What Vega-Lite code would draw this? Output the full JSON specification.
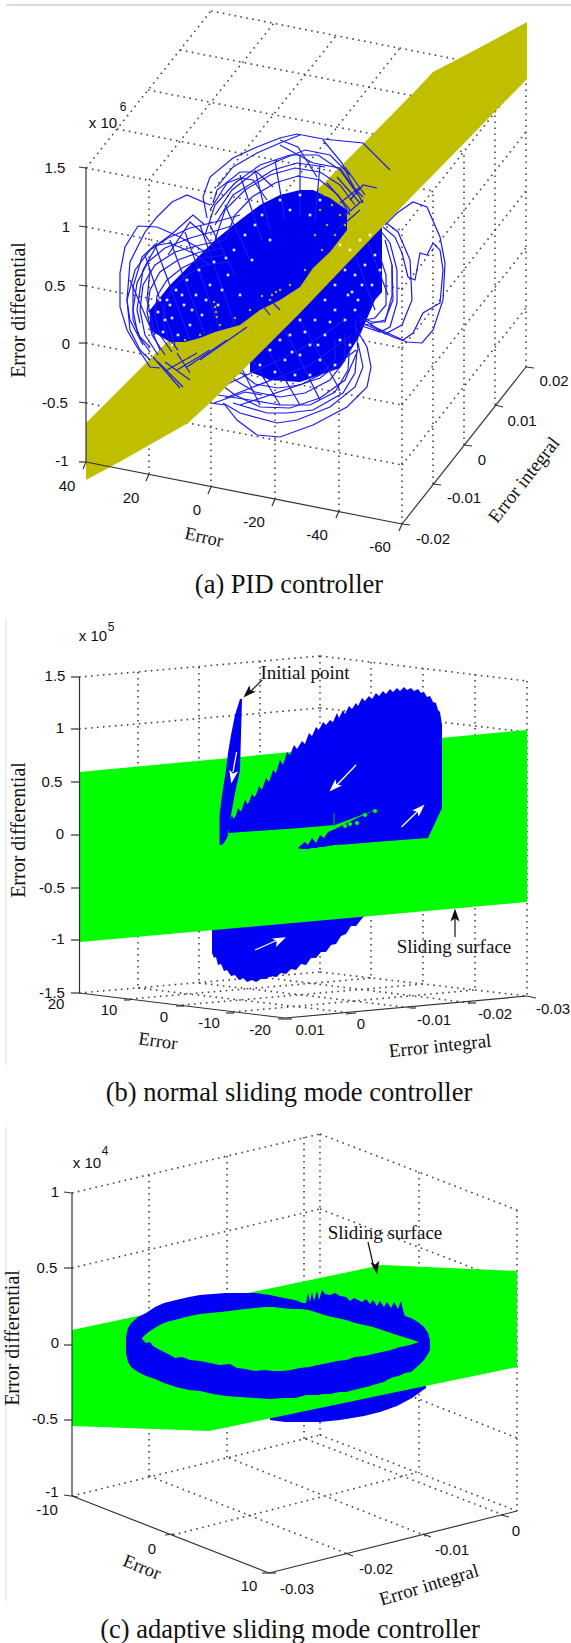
{
"$schema":"https://vega.github.io/schema/vega-lite/v6.json",
"padding":0,"spacing":0,"bounds":"flush",
"config":{"view":{"stroke":null},"concat":{"spacing":0}},
"datasets":{
"frame":[{"h":6,"v":5,"h2":571,"v2":5}],
"aGrid":[
{"h":86,"v":168,"h2":402,"v2":230},{"h":86,"v":227,"h2":402,"v2":289},{"h":86,"v":286,"h2":402,"v2":348},{"h":86,"v":343,"h2":402,"v2":405},{"h":86,"v":403,"h2":402,"v2":465},
{"h":402,"v":230,"h2":526,"v2":73},{"h":402,"v":289,"h2":526,"v2":132},{"h":402,"v":348,"h2":526,"v2":191},{"h":402,"v":405,"h2":526,"v2":248},{"h":402,"v":465,"h2":526,"v2":308},
{"h":149,"v":474,"h2":149,"v2":181},{"h":211,"v":487,"h2":211,"v2":193},{"h":275,"v":499,"h2":275,"v2":205},{"h":339,"v":511,"h2":339,"v2":218},{"h":402,"v":524,"h2":402,"v2":230},
{"h":433,"v":484,"h2":433,"v2":191},{"h":464,"v":445,"h2":464,"v2":152},{"h":495,"v":405,"h2":495,"v2":112},{"h":526,"v":367,"h2":526,"v2":73},
{"h":86,"v":168,"h2":211,"v2":11},{"h":149,"v":180,"h2":274,"v2":23},{"h":211,"v":193,"h2":336,"v2":36},{"h":275,"v":205,"h2":400,"v2":48},{"h":339,"v":218,"h2":464,"v2":61},
{"h":117,"v":129,"h2":433,"v2":191},{"h":148,"v":90,"h2":464,"v2":152},{"h":180,"v":50,"h2":495,"v2":112},{"h":211,"v":11,"h2":526,"v2":73}],
"aAxis":[
{"h":86,"v":168,"h2":86,"v2":462},{"h":86,"v":462,"h2":402,"v2":524},{"h":402,"v":524,"h2":526,"v2":367},
{"h":79,"v":167,"h2":86,"v2":168},{"h":79,"v":226,"h2":86,"v2":227},{"h":79,"v":285,"h2":86,"v2":286},{"h":79,"v":343,"h2":86,"v2":343},{"h":79,"v":402,"h2":86,"v2":403},{"h":79,"v":462,"h2":86,"v2":462},
{"h":83,"v":469,"h2":86,"v2":462},{"h":146,"v":481,"h2":149,"v2":474},{"h":208,"v":494,"h2":211,"v2":487},{"h":272,"v":506,"h2":275,"v2":499},{"h":336,"v":518,"h2":339,"v2":511},{"h":399,"v":531,"h2":402,"v2":524},
{"h":402,"v":524,"h2":410,"v2":525},{"h":433,"v":484,"h2":441,"v2":485},{"h":464,"v":445,"h2":472,"v2":446},{"h":495,"v":405,"h2":503,"v2":407},{"h":526,"v":367,"h2":534,"v2":368}],
"aDenseUnder":[
{"h":250,"v":345,"v2":372},{"h":270,"v":310,"v2":380},{"h":300,"v":285,"v2":382},{"h":340,"v":245,"v2":368},{"h":360,"v":220,"v2":335},{"h":375,"v":210,"v2":300},{"h":382,"v":205,"v2":292}],
"aLinesUnder":[
{"i":1,"h":360,"v":322},{"i":1,"h":393,"v":337},{"i":1,"h":407,"v":342},{"i":1,"h":422,"v":343},{"i":1,"h":433,"v":330},{"i":1,"h":443,"v":300},{"i":1,"h":445,"v":263},{"i":1,"h":440,"v":237},{"i":1,"h":427,"v":207},{"i":1,"h":413,"v":202},{"i":1,"h":397,"v":213},{"i":1,"h":385,"v":225},
{"i":2,"h":383,"v":227},{"i":2,"h":395,"v":237},{"i":2,"h":402,"v":253},{"i":2,"h":408,"v":277},{"i":2,"h":415,"v":280},{"i":2,"h":420,"v":253},{"i":2,"h":427,"v":255},{"i":2,"h":433,"v":243},{"i":2,"h":440,"v":250},{"i":2,"h":443,"v":270},{"i":2,"h":440,"v":303},{"i":2,"h":423,"v":313},{"i":2,"h":413,"v":333},{"i":2,"h":403,"v":340},{"i":2,"h":370,"v":325},
{"i":3,"h":380,"v":230},{"i":3,"h":390,"v":243},{"i":3,"h":397,"v":270},{"i":3,"h":397,"v":303},{"i":3,"h":390,"v":327},{"i":3,"h":380,"v":332},{"i":3,"h":362,"v":326},
{"i":4,"h":385,"v":222},{"i":4,"h":398,"v":232},{"i":4,"h":410,"v":260},{"i":4,"h":412,"v":300},{"i":4,"h":402,"v":325},{"i":4,"h":385,"v":334},{"i":4,"h":362,"v":318},
{"i":5,"h":392,"v":265},{"i":5,"h":392,"v":296},{"i":5,"h":385,"v":322},{"i":5,"h":372,"v":322},{"i":5,"h":358,"v":316},
{"i":6,"h":355,"v":327},{"i":6,"h":367,"v":347},{"i":6,"h":371,"v":367},{"i":6,"h":367,"v":387},{"i":6,"h":347,"v":407},{"i":6,"h":313,"v":425},{"i":6,"h":280,"v":437},{"i":6,"h":257,"v":435},{"i":6,"h":237,"v":420},{"i":6,"h":225,"v":405},{"i":6,"h":210,"v":403},
{"i":7,"h":358,"v":343},{"i":7,"h":363,"v":367},{"i":7,"h":355,"v":387},{"i":7,"h":330,"v":407},{"i":7,"h":297,"v":420},{"i":7,"h":277,"v":423},{"i":7,"h":240,"v":413},{"i":7,"h":223,"v":403},
{"i":8,"h":357,"v":350},{"i":8,"h":355,"v":373},{"i":8,"h":343,"v":393},{"i":8,"h":313,"v":410},{"i":8,"h":287,"v":413},{"i":8,"h":267,"v":413},{"i":8,"h":233,"v":403},
{"i":9,"h":350,"v":340},{"i":9,"h":348,"v":370},{"i":9,"h":335,"v":392},{"i":9,"h":310,"v":405},{"i":9,"h":280,"v":405},{"i":9,"h":250,"v":400},{"i":9,"h":218,"v":395},
{"i":10,"h":214,"v":403},{"i":10,"h":245,"v":392},{"i":10,"h":262,"v":395},
{"i":11,"h":345,"v":335},{"i":11,"h":345,"v":360},{"i":11,"h":330,"v":380},{"i":11,"h":305,"v":393},{"i":11,"h":280,"v":397},{"i":11,"h":255,"v":392},{"i":11,"h":235,"v":380},{"i":11,"h":222,"v":365},
{"i":12,"h":335,"v":340},{"i":12,"h":335,"v":360},{"i":12,"h":320,"v":375},{"i":12,"h":300,"v":385},{"i":12,"h":278,"v":388},{"i":12,"h":255,"v":384},{"i":12,"h":240,"v":372},
{"i":13,"h":355,"v":320},{"i":13,"h":358,"v":350},{"i":13,"h":345,"v":380},{"i":13,"h":320,"v":398},{"i":13,"h":290,"v":408},{"i":13,"h":260,"v":407},{"i":13,"h":235,"v":395},{"i":13,"h":215,"v":380},{"i":13,"h":205,"v":385},
{"i":14,"h":340,"v":390},{"i":14,"h":300,"v":320},
{"i":15,"h":320,"v":400},{"i":15,"h":285,"v":330},
{"i":16,"h":300,"v":405},{"i":16,"h":265,"v":345},
{"i":17,"h":280,"v":405},{"i":17,"h":250,"v":355},
{"i":18,"h":260,"v":405},{"i":18,"h":240,"v":365},
{"i":19,"h":215,"v":390},{"i":19,"h":300,"v":350},{"i":19,"h":345,"v":320},
{"i":20,"h":225,"v":398},{"i":20,"h":310,"v":365},{"i":20,"h":352,"v":335},
{"i":21,"h":240,"v":405},{"i":21,"h":320,"v":378},{"i":21,"h":356,"v":350},
{"i":22,"h":385,"v":240},{"i":22,"h":392,"v":265},{"i":22,"h":393,"v":300},{"i":22,"h":385,"v":320},{"i":22,"h":365,"v":325},
{"i":23,"h":378,"v":250},{"i":23,"h":386,"v":275},{"i":23,"h":386,"v":305},{"i":23,"h":375,"v":318},{"i":23,"h":355,"v":322},
{"i":24,"h":350,"v":240},{"i":24,"h":375,"v":310},
{"i":25,"h":365,"v":235},{"i":25,"h":388,"v":295}],
"aYellow":[
{"h":86,"v":423,"v2":480},{"h":123,"v":386,"v2":460},{"h":188,"v":321,"v2":423},{"h":210,"v":299,"v2":403},{"h":300,"v":207,"v2":313},{"h":364,"v":143,"v2":246},{"h":419,"v":87,"v2":189},{"h":433,"v":72,"v2":175},{"h":477,"v":49,"v2":130},{"h":527,"v":22,"v2":79}],
"aDenseOver":[
{"h":150,"v":310,"v2":330},{"h":170,"v":285,"v2":342},{"h":185,"v":270,"v2":342},{"h":200,"v":255,"v2":338},{"h":215,"v":240,"v2":332},{"h":240,"v":220,"v2":325},{"h":260,"v":205,"v2":310},{"h":280,"v":195,"v2":300},{"h":300,"v":190,"v2":287},{"h":313,"v":190,"v2":268},{"h":330,"v":198,"v2":252},{"h":347,"v":210,"v2":230}],
"aLinesOver":[
{"i":1,"h":207,"v":218},{"i":1,"h":203,"v":197},{"i":1,"h":210,"v":177},{"i":1,"h":233,"v":158},{"i":1,"h":257,"v":147},{"i":1,"h":280,"v":138},{"i":1,"h":297,"v":134},{"i":1,"h":323,"v":139},{"i":1,"h":363,"v":143},{"i":1,"h":390,"v":170},
{"i":2,"h":213,"v":203},{"i":2,"h":217,"v":190},{"i":2,"h":240,"v":172},{"i":2,"h":257,"v":172},{"i":2,"h":273,"v":187},
{"i":3,"h":210,"v":210},{"i":3,"h":227,"v":183},{"i":3,"h":240,"v":178},{"i":3,"h":253,"v":180},{"i":3,"h":267,"v":200},
{"i":4,"h":215,"v":225},{"i":4,"h":233,"v":195},{"i":4,"h":257,"v":180},{"i":4,"h":273,"v":170},{"i":4,"h":297,"v":163},{"i":4,"h":325,"v":167},
{"i":5,"h":300,"v":135},{"i":5,"h":280,"v":143},{"i":5,"h":257,"v":153},{"i":5,"h":233,"v":167},{"i":5,"h":217,"v":187},
{"i":6,"h":280,"v":145},{"i":6,"h":313,"v":163},{"i":6,"h":340,"v":168},{"i":6,"h":353,"v":187},{"i":6,"h":363,"v":197},
{"i":7,"h":280,"v":140},{"i":7,"h":298,"v":147},{"i":7,"h":317,"v":177},
{"i":8,"h":323,"v":140},{"i":8,"h":342,"v":163},{"i":8,"h":350,"v":180},{"i":8,"h":363,"v":203},
{"i":9,"h":350,"v":200},{"i":9,"h":363,"v":185},{"i":9,"h":377,"v":188},
{"i":10,"h":327,"v":183},{"i":10,"h":350,"v":210},
{"i":11,"h":337,"v":177},{"i":11,"h":360,"v":203},
{"i":12,"h":345,"v":167},{"i":12,"h":365,"v":195},
{"i":13,"h":360,"v":187},{"i":13,"h":340,"v":203},
{"i":14,"h":363,"v":200},{"i":14,"h":343,"v":217},
{"i":15,"h":360,"v":210},{"i":15,"h":337,"v":230},
{"i":16,"h":153,"v":357},{"i":16,"h":180,"v":388},
{"i":17,"h":158,"v":362},{"i":17,"h":183,"v":387},
{"i":18,"h":165,"v":362},{"i":18,"h":190,"v":380},
{"i":19,"h":177,"v":353},{"i":19,"h":190,"v":373},
{"i":20,"h":167,"v":370},{"i":20,"h":197,"v":353},
{"i":21,"h":177,"v":370},{"i":21,"h":210,"v":350},
{"i":22,"h":187,"v":367},{"i":22,"h":227,"v":340},
{"i":23,"h":200,"v":360},{"i":23,"h":247,"v":327},
{"i":24,"h":262,"v":305},{"i":24,"h":270,"v":315},
{"i":25,"h":270,"v":300},{"i":25,"h":280,"v":310},
{"i":26,"h":210,"v":205},{"i":26,"h":187,"v":195},{"i":26,"h":172,"v":202},{"i":26,"h":157,"v":217},{"i":26,"h":145,"v":232},{"i":26,"h":130,"v":262},{"i":26,"h":127,"v":300},{"i":26,"h":130,"v":330},{"i":26,"h":140,"v":350},{"i":26,"h":150,"v":360},
{"i":27,"h":207,"v":253},{"i":27,"h":180,"v":237},{"i":27,"h":157,"v":227},{"i":27,"h":138,"v":226},{"i":27,"h":125,"v":247},{"i":27,"h":120,"v":273},{"i":27,"h":120,"v":307},{"i":27,"h":127,"v":330},{"i":27,"h":137,"v":347},{"i":27,"h":150,"v":367},{"i":27,"h":160,"v":368},
{"i":28,"h":157,"v":243},{"i":28,"h":142,"v":257},{"i":28,"h":133,"v":287},{"i":28,"h":133,"v":320},{"i":28,"h":140,"v":337},{"i":28,"h":150,"v":347},
{"i":29,"h":205,"v":225},{"i":29,"h":193,"v":215},{"i":29,"h":173,"v":233},{"i":29,"h":157,"v":245},{"i":29,"h":143,"v":270},{"i":29,"h":137,"v":310},{"i":29,"h":140,"v":323},
{"i":30,"h":153,"v":246},{"i":30,"h":170,"v":243},{"i":30,"h":193,"v":253},{"i":30,"h":210,"v":265},
{"i":31,"h":168,"v":255},{"i":31,"h":190,"v":222},{"i":31,"h":205,"v":235},{"i":31,"h":215,"v":250},
{"i":32,"h":150,"v":270},{"i":32,"h":147,"v":300},{"i":32,"h":155,"v":335},
{"i":33,"h":225,"v":240},{"i":33,"h":200,"v":245},{"i":33,"h":175,"v":252},{"i":33,"h":155,"v":265},{"i":33,"h":143,"v":285},{"i":33,"h":140,"v":310},{"i":33,"h":145,"v":335},{"i":33,"h":158,"v":355},
{"i":34,"h":225,"v":248},{"i":34,"h":200,"v":252},{"i":34,"h":178,"v":260},{"i":34,"h":160,"v":272},{"i":34,"h":150,"v":290},{"i":34,"h":147,"v":312},{"i":34,"h":152,"v":335},{"i":34,"h":165,"v":355},
{"i":35,"h":225,"v":255},{"i":35,"h":202,"v":258},{"i":35,"h":182,"v":268},{"i":35,"h":167,"v":280},{"i":35,"h":157,"v":296},{"i":35,"h":155,"v":315},{"i":35,"h":160,"v":335},{"i":35,"h":172,"v":352},
{"i":36,"h":230,"v":262},{"i":36,"h":205,"v":265},{"i":36,"h":187,"v":275},{"i":36,"h":173,"v":288},{"i":36,"h":165,"v":302},{"i":36,"h":163,"v":320},{"i":36,"h":168,"v":338},{"i":36,"h":178,"v":350},
{"i":37,"h":235,"v":225},{"i":37,"h":212,"v":232},{"i":37,"h":190,"v":238},{"i":37,"h":165,"v":248},{"i":37,"h":148,"v":262},{"i":37,"h":137,"v":283},{"i":37,"h":133,"v":310},{"i":37,"h":138,"v":335},{"i":37,"h":150,"v":352},
{"i":38,"h":240,"v":215},{"i":38,"h":215,"v":222},{"i":38,"h":190,"v":228},{"i":38,"h":168,"v":238},{"i":38,"h":150,"v":250},{"i":38,"h":135,"v":270},{"i":38,"h":127,"v":300},{"i":38,"h":130,"v":320},{"i":38,"h":143,"v":345},
{"i":39,"h":145,"v":255},{"i":39,"h":175,"v":345},
{"i":40,"h":155,"v":245},{"i":40,"h":190,"v":340},
{"i":41,"h":170,"v":240},{"i":41,"h":205,"v":335},
{"i":42,"h":185,"v":232},{"i":42,"h":220,"v":330},
{"i":43,"h":200,"v":225},{"i":43,"h":235,"v":325},
{"i":44,"h":130,"v":280},{"i":44,"h":160,"v":350},
{"i":45,"h":215,"v":240},{"i":45,"h":225,"v":210},{"i":45,"h":245,"v":190},{"i":45,"h":270,"v":175},{"i":45,"h":295,"v":168},{"i":45,"h":320,"v":172},{"i":45,"h":340,"v":185},{"i":45,"h":355,"v":205},
{"i":46,"h":225,"v":240},{"i":46,"h":235,"v":215},{"i":46,"h":252,"v":197},{"i":46,"h":275,"v":183},{"i":46,"h":298,"v":176},{"i":46,"h":320,"v":180},{"i":46,"h":338,"v":195},{"i":46,"h":350,"v":215},
{"i":47,"h":205,"v":235},{"i":47,"h":215,"v":205},{"i":47,"h":235,"v":183},{"i":47,"h":260,"v":165},{"i":47,"h":290,"v":155},{"i":47,"h":318,"v":155},{"i":47,"h":340,"v":170},{"i":47,"h":358,"v":195},
{"i":48,"h":215,"v":215},{"i":48,"h":232,"v":190},{"i":48,"h":255,"v":172},{"i":48,"h":280,"v":160},{"i":48,"h":305,"v":150},{"i":48,"h":330,"v":155},{"i":48,"h":350,"v":175},
{"i":49,"h":240,"v":175},{"i":49,"h":262,"v":240},
{"i":50,"h":255,"v":170},{"i":50,"h":270,"v":230},
{"i":51,"h":275,"v":160},{"i":51,"h":285,"v":220},
{"i":52,"h":300,"v":155},{"i":52,"h":300,"v":215},
{"i":53,"h":320,"v":165},{"i":53,"h":315,"v":220},
{"i":54,"h":225,"v":205},{"i":54,"h":250,"v":260},
{"i":55,"h":210,"v":225},{"i":55,"h":235,"v":275}],
"aWhite":[
{"h":158,"v":312},{"h":163,"v":332},{"h":167,"v":300},{"h":172,"v":318},{"h":176,"v":290},{"h":178,"v":335},{"h":184,"v":305},{"h":187,"v":280},{"h":190,"v":325},{"h":196,"v":295},{"h":199,"v":270},{"h":202,"v":315},{"h":210,"v":285},{"h":214,"v":262},{"h":218,"v":305},{"h":228,"v":275},{"h":234,"v":250},{"h":240,"v":295},{"h":252,"v":260},{"h":262,"v":215},{"h":270,"v":240},{"h":280,"v":200},{"h":290,"v":210},{"h":300,"v":195},{"h":310,"v":215},{"h":320,"v":200},{"h":172,"v":345},{"h":165,"v":320},
{"h":160,"v":300},{"h":170,"v":305},{"h":182,"v":295},{"h":192,"v":310},{"h":206,"v":300},{"h":222,"v":290},{"h":245,"v":235},{"h":255,"v":225},{"h":226,"v":258},
{"h":340,"v":245},{"h":350,"v":250},{"h":360,"v":240},{"h":370,"v":235},{"h":345,"v":270},{"h":355,"v":275},{"h":365,"v":265},{"h":375,"v":255},{"h":335,"v":285},{"h":348,"v":295},{"h":358,"v":300},{"h":372,"v":285},{"h":380,"v":270},{"h":325,"v":300},{"h":335,"v":310},{"h":345,"v":320},{"h":355,"v":310},{"h":315,"v":320},{"h":325,"v":335},{"h":340,"v":340},{"h":350,"v":345},{"h":300,"v":320},{"h":310,"v":345},{"h":320,"v":360},{"h":335,"v":365},{"h":345,"v":370},{"h":290,"v":335},{"h":300,"v":355},{"h":310,"v":375},{"h":280,"v":340},{"h":285,"v":360},{"h":295,"v":375},{"h":270,"v":350},{"h":275,"v":372},{"h":260,"v":365},
{"h":330,"v":322},{"h":318,"v":345},{"h":305,"v":332},{"h":292,"v":352},{"h":352,"v":292},{"h":362,"v":285}],
"aOlive":[
{"h":325,"v":195},{"h":332,"v":205},{"h":340,"v":215},{"h":320,"v":210},{"h":327,"v":225},{"h":335,"v":235},{"h":345,"v":225},{"h":315,"v":235},{"h":322,"v":250},{"h":305,"v":270},{"h":290,"v":285},{"h":280,"v":290},{"h":270,"v":300},{"h":250,"v":310},{"h":235,"v":318},{"h":220,"v":325},{"h":200,"v":335},{"h":185,"v":340},{"h":170,"v":345},{"h":262,"v":296},{"h":214,"v":302},{"h":215,"v":307},{"h":216,"v":312},{"h":217,"v":317},{"h":272,"v":295},{"h":276,"v":292}],
"aTicks":[
{"t":"1.5","h":55,"v":168},{"t":"1","h":66,"v":227},{"t":"0.5","h":55,"v":286},{"t":"0","h":66,"v":344},{"t":"-0.5","h":55,"v":403},{"t":"-1","h":62,"v":461},
{"t":"40","h":67,"v":486},{"t":"20","h":131,"v":498},{"t":"0","h":197,"v":510},{"t":"-20","h":254,"v":522},{"t":"-40","h":317,"v":535},{"t":"-60","h":380,"v":547},
{"t":"-0.02","h":433,"v":539},{"t":"-0.01","h":464,"v":498},{"t":"0","h":482,"v":460},{"t":"0.01","h":522,"v":421},{"t":"0.02","h":554,"v":381},
{"t":"x 10","h":103,"v":123}],
"aExp":[{"t":"6","h":123,"v":107}],
"bGrid":[
{"h":79,"v":677,"h2":320,"v2":656},{"h":320,"v":656,"h2":527,"v2":681},{"h":79,"v":729,"h2":320,"v2":708},{"h":320,"v":708,"h2":527,"v2":732},
{"h":138,"v":672,"h2":138,"v2":988},{"h":199,"v":667,"h2":199,"v2":983},{"h":260,"v":661,"h2":260,"v2":977},{"h":320,"v":656,"h2":320,"v2":972},{"h":371,"v":662,"h2":371,"v2":978},{"h":423,"v":668,"h2":423,"v2":984},{"h":475,"v":674,"h2":475,"v2":990},{"h":527,"v":681,"h2":527,"v2":996},
{"h":79,"v":993,"h2":320,"v2":972},{"h":130,"v":999,"h2":372,"v2":978},{"h":182,"v":1005,"h2":423,"v2":984},{"h":233,"v":1012,"h2":475,"v2":990},
{"h":320,"v":972,"h2":527,"v2":996},{"h":260,"v":977,"h2":471,"v2":1003},{"h":199,"v":983,"h2":413,"v2":1008},{"h":138,"v":988,"h2":351,"v2":1013}],
"bAxis":[
{"h":79.5,"v":677,"h2":79.5,"v2":993},{"h":79,"v":993,"h2":285,"v2":1018},{"h":285,"v":1018,"h2":527,"v2":996},{"h":527,"v":996,"h2":536,"v2":998},
{"h":71,"v":677,"h2":79,"v2":677},{"h":71,"v":729,"h2":79,"v2":729},{"h":71,"v":782,"h2":79,"v2":782},{"h":71,"v":835,"h2":79,"v2":835},{"h":71,"v":888,"h2":79,"v2":888},{"h":71,"v":940,"h2":79,"v2":940},{"h":71,"v":993,"h2":79,"v2":993},
{"h":124,"v":1000,"h2":130,"v2":1000},{"h":176,"v":1006,"h2":184,"v2":1006},{"h":226,"v":1013,"h2":234,"v2":1013},{"h":278,"v":1019,"h2":292,"v2":1019},{"h":346,"v":1014,"h2":356,"v2":1013},{"h":410,"v":1008,"h2":416,"v2":1008},{"h":468,"v":1003,"h2":476,"v2":1003}],
"bBlobLow":[
{"h":212,"v":900,"v2":953},{"h":214,"v":900,"v2":958},{"h":216,"v":900,"v2":957},{"h":218,"v":900,"v2":965},{"h":221,"v":900,"v2":964},{"h":224,"v":900,"v2":971},{"h":227,"v":900,"v2":970},{"h":231,"v":900,"v2":976},{"h":235,"v":900,"v2":975},{"h":239,"v":900,"v2":980},{"h":243,"v":900,"v2":978},{"h":247,"v":900,"v2":982},{"h":252,"v":900,"v2":980},{"h":256,"v":900,"v2":982},{"h":261,"v":900,"v2":979},{"h":266,"v":900,"v2":979},{"h":271,"v":900,"v2":976},{"h":276,"v":900,"v2":977},{"h":281,"v":900,"v2":973},{"h":286,"v":900,"v2":974},{"h":291,"v":900,"v2":969},{"h":296,"v":900,"v2":970},{"h":301,"v":900,"v2":964},{"h":306,"v":900,"v2":965},{"h":311,"v":900,"v2":958},{"h":316,"v":900,"v2":958},{"h":321,"v":900,"v2":952},{"h":326,"v":900,"v2":952},{"h":331,"v":900,"v2":945},{"h":336,"v":900,"v2":944},{"h":341,"v":900,"v2":936},{"h":346,"v":900,"v2":934},{"h":351,"v":900,"v2":926},{"h":356,"v":900,"v2":926},{"h":364,"v":900,"v2":916}],
"bGreen":[{"h":79.5,"v":772,"v2":942},{"h":527,"v":730,"v2":902}],
"bBlob":[
{"i":1,"h":219.5,"v":815,"v2":845},{"i":1,"h":222,"v":795,"v2":845},{"i":1,"h":226,"v":770,"v2":840},{"i":1,"h":228,"v":753,"v2":835},{"i":1,"h":231,"v":735,"v2":815},{"i":1,"h":235,"v":715,"v2":793},{"i":1,"h":240,"v":699,"v2":770},{"i":1,"h":242,"v":699,"v2":700},
{"i":2,"h":229,"v":823,"v2":833},{"i":2,"h":300,"v":750,"v2":828},{"i":2,"h":335,"v":730,"v2":825},{"i":2,"h":375,"v":710,"v2":810},{"i":2,"h":442,"v":725,"v2":808},
{"i":3,"h":298,"v":848,"v2":848},{"i":3,"h":301,"v":845,"v2":849},{"i":3,"h":305,"v":842,"v2":849},{"i":3,"h":308,"v":845,"v2":849},{"i":3,"h":312,"v":838,"v2":848},{"i":3,"h":316,"v":843,"v2":848},{"i":3,"h":320,"v":835,"v2":847},{"i":3,"h":324,"v":838,"v2":847},{"i":3,"h":328,"v":832,"v2":846},{"i":3,"h":335,"v":829,"v2":845},{"i":3,"h":345,"v":824,"v2":844.5},{"i":3,"h":357,"v":818,"v2":843.6},{"i":3,"h":375,"v":810,"v2":842},{"i":3,"h":428,"v":805,"v2":838},{"i":3,"h":442,"v":800,"v2":808},
{"i":4,"h":229,"v":823,"v2":826},{"i":4,"h":232,"v":815,"v2":826},{"i":4,"h":234,"v":822,"v2":826},{"i":4,"h":238,"v":808,"v2":826},{"i":4,"h":241,"v":812,"v2":815},{"i":4,"h":245,"v":800,"v2":815},{"i":4,"h":248,"v":805,"v2":815},{"i":4,"h":252,"v":794,"v2":815},{"i":4,"h":255,"v":798,"v2":815},{"i":4,"h":259,"v":786,"v2":815},{"i":4,"h":262,"v":790,"v2":815},{"i":4,"h":266,"v":778,"v2":815},{"i":4,"h":269,"v":782,"v2":815},{"i":4,"h":273,"v":770,"v2":815},{"i":4,"h":276,"v":773,"v2":815},{"i":4,"h":280,"v":760,"v2":815},{"i":4,"h":283,"v":765,"v2":815},{"i":4,"h":287,"v":752,"v2":815},{"i":4,"h":290,"v":755,"v2":815},{"i":4,"h":294,"v":745,"v2":815},{"i":4,"h":297,"v":749,"v2":815},{"i":4,"h":302,"v":741,"v2":815},{"i":4,"h":305,"v":744,"v2":815},{"i":4,"h":309,"v":733,"v2":815},{"i":4,"h":312,"v":736,"v2":815},{"i":4,"h":316,"v":727,"v2":815},{"i":4,"h":319,"v":730,"v2":815},{"i":4,"h":323,"v":722,"v2":815},{"i":4,"h":326,"v":725,"v2":815},{"i":4,"h":330,"v":720,"v2":815},{"i":4,"h":333,"v":722,"v2":815},{"i":4,"h":337,"v":713,"v2":808},{"i":4,"h":339,"v":718,"v2":808},{"i":4,"h":343,"v":710,"v2":808},{"i":4,"h":345,"v":714,"v2":808},{"i":4,"h":349,"v":706,"v2":808},{"i":4,"h":352,"v":709,"v2":808},{"i":4,"h":356,"v":703,"v2":808},{"i":4,"h":358,"v":706,"v2":808},{"i":4,"h":362,"v":698,"v2":808},{"i":4,"h":365,"v":701,"v2":808},{"i":4,"h":369,"v":696,"v2":808},{"i":4,"h":372,"v":699,"v2":808},{"i":4,"h":376,"v":693,"v2":808},{"i":4,"h":379,"v":696,"v2":808},{"i":4,"h":383,"v":691,"v2":808},{"i":4,"h":386,"v":694,"v2":808},{"i":4,"h":390,"v":689,"v2":808},{"i":4,"h":393,"v":692,"v2":808},{"i":4,"h":397,"v":688,"v2":808},{"i":4,"h":400,"v":691,"v2":808},{"i":4,"h":404,"v":687,"v2":808},{"i":4,"h":407,"v":690,"v2":808},{"i":4,"h":411,"v":688,"v2":808},{"i":4,"h":414,"v":691,"v2":808},{"i":4,"h":418,"v":689,"v2":808},{"i":4,"h":421,"v":693,"v2":808},{"i":4,"h":424,"v":692,"v2":808},{"i":4,"h":427,"v":697,"v2":808},{"i":4,"h":430,"v":696,"v2":808},{"i":4,"h":433,"v":702,"v2":808},{"i":4,"h":436,"v":703,"v2":808},{"i":4,"h":438,"v":710,"v2":808},{"i":4,"h":440,"v":712,"v2":808},{"i":4,"h":442,"v":725,"v2":808}],
"bSpike":[{"h":334,"v":813,"h2":334,"v2":827}],
"bGreenDots":[{"h":345,"v":826},{"h":350,"v":824},{"h":357,"v":823},{"h":365,"v":815},{"h":375,"v":811}],
"bWhiteShaft":[{"h":236.6,"v":752,"h2":233,"v2":772},{"h":356,"v":765,"h2":333,"v2":789},{"h":401.5,"v":827,"h2":421,"v2":808},{"h":255,"v":950,"h2":280,"v2":939}],
"bWhiteHead":[{"h":232.5,"v":777,"a":190},{"h":334,"v":787,"a":225},{"h":420,"v":809,"a":45},{"h":280,"v":940,"a":65}],
"bBlackShaft":[{"h":262,"v":680,"h2":250,"v2":692},{"h":455,"v":937,"h2":455,"v2":912}],
"bBlackHead":[{"h":248,"v":693,"a":225},{"h":455,"v":915,"a":0}],
"bTicks":[
{"t":"1.5","h":55,"v":676},{"t":"1","h":60,"v":728},{"t":"0.5","h":52,"v":782},{"t":"0","h":60,"v":834},{"t":"-0.5","h":52,"v":888},{"t":"-1","h":58,"v":939},{"t":"-1.5","h":52,"v":993},
{"t":"20","h":56,"v":1004},{"t":"10","h":109,"v":1010},{"t":"0","h":164,"v":1017},{"t":"-10","h":209,"v":1023},{"t":"-20","h":260,"v":1030},
{"t":"0.01","h":310,"v":1030},{"t":"0","h":361,"v":1024},{"t":"-0.01","h":434,"v":1020},{"t":"-0.02","h":495,"v":1014},{"t":"-0.03","h":553,"v":1009},
{"t":"x 10","h":93,"v":636}],
"bExp":[{"t":"5","h":111,"v":627}],
"bNotes":[{"t":"Initial point","h":305,"v":673},{"t":"Sliding surface","h":454,"v":947}],
"bFrame":[{"h":6,"v":618,"h2":6,"v2":1065}],
"cGrid":[
{"h":72,"v":1193,"h2":320,"v2":1134},{"h":320,"v":1134,"h2":517,"v2":1210},{"h":72,"v":1268,"h2":320,"v2":1209},{"h":320,"v":1209,"h2":517,"v2":1285},{"h":320,"v":1360,"h2":517,"v2":1438},
{"h":149,"v":1175,"h2":149,"v2":1476},{"h":227,"v":1156,"h2":227,"v2":1458},{"h":304,"v":1137,"h2":304,"v2":1439},{"h":320,"v":1134,"h2":320,"v2":1435},{"h":419,"v":1172,"h2":419,"v2":1473},{"h":517,"v":1210,"h2":517,"v2":1511},
{"h":72,"v":1496,"h2":320,"v2":1435},{"h":173,"v":1535,"h2":415,"v2":1473},{"h":320,"v":1435,"h2":517,"v2":1511},{"h":306,"v":1439,"h2":506,"v2":1516},{"h":229,"v":1458,"h2":426,"v2":1536},{"h":149,"v":1476,"h2":348,"v2":1554}],
"cAxis":[
{"h":72,"v":1193,"h2":72,"v2":1496},{"h":72,"v":1496,"h2":269,"v2":1573},{"h":269,"v":1573,"h2":517,"v2":1511},
{"h":64,"v":1192,"h2":72,"v2":1193},{"h":64,"v":1268,"h2":72,"v2":1268},{"h":64,"v":1345,"h2":72,"v2":1345},{"h":64,"v":1420,"h2":72,"v2":1420},{"h":64,"v":1495,"h2":78,"v2":1497},
{"h":165,"v":1535,"h2":174,"v2":1534},{"h":262,"v":1573,"h2":276,"v2":1573},{"h":345,"v":1553,"h2":353,"v2":1556},{"h":423,"v":1534,"h2":431,"v2":1537},{"h":501,"v":1515,"h2":509,"v2":1517}],
"cBlobLow":[{"h":270,"v":1380,"v2":1420},{"h":285,"v":1380,"v2":1422},{"h":300,"v":1380,"v2":1422},{"h":320,"v":1380,"v2":1422},{"h":340,"v":1380,"v2":1420},{"h":364,"v":1380,"v2":1416},{"h":380,"v":1380,"v2":1412},{"h":397,"v":1380,"v2":1406},{"h":412,"v":1380,"v2":1398},{"h":426,"v":1380,"v2":1388}],
"cGreen":[{"h":72,"v":1330,"v2":1426},{"h":209,"v":1301,"v2":1431},{"h":382,"v":1265,"v2":1395},{"h":517,"v":1271,"v2":1367}],
"cRing":[
{"h":126,"v":1337,"v2":1353},{"h":128,"v":1328,"v2":1362},{"h":131,"v":1323,"v2":1367},{"h":138,"v":1317,"v2":1372},{"h":146,"v":1313,"v2":1376},{"h":155,"v":1307,"v2":1379},{"h":164,"v":1303,"v2":1383},{"h":176,"v":1300,"v2":1387},{"h":189,"v":1297,"v2":1390},{"h":200,"v":1295,"v2":1391},{"h":213,"v":1294,"v2":1394},{"h":226,"v":1293,"v2":1396},{"h":240,"v":1293,"v2":1397},{"h":255,"v":1293,"v2":1398},{"h":270,"v":1295,"v2":1399},{"h":284,"v":1298,"v2":1398},{"h":295,"v":1300,"v2":1398},{"h":303,"v":1303,"v2":1396},{"h":306,"v":1303,"v2":1395},
{"h":308,"v":1293,"v2":1395},{"h":310,"v":1302,"v2":1395},{"h":312,"v":1292,"v2":1395},{"h":314,"v":1301,"v2":1395},{"h":317,"v":1291,"v2":1395},{"h":319,"v":1300,"v2":1395},{"h":322,"v":1290,"v2":1394},{"h":325,"v":1294,"v2":1394},{"h":330,"v":1295,"v2":1394},{"h":335,"v":1293,"v2":1393},{"h":340,"v":1296,"v2":1392},{"h":346,"v":1297,"v2":1392},{"h":350,"v":1301,"v2":1391},{"h":354,"v":1298,"v2":1390},{"h":358,"v":1300,"v2":1389},{"h":362,"v":1302,"v2":1388},{"h":366,"v":1299,"v2":1387},{"h":370,"v":1304,"v2":1386},{"h":373,"v":1300,"v2":1385},{"h":377,"v":1306,"v2":1384},{"h":380,"v":1301,"v2":1383},{"h":384,"v":1307,"v2":1382},{"h":387,"v":1302,"v2":1380},{"h":391,"v":1308,"v2":1378},{"h":394,"v":1302,"v2":1377},{"h":398,"v":1309,"v2":1376},{"h":401,"v":1301,"v2":1375},{"h":403,"v":1310,"v2":1374},{"h":405,"v":1316,"v2":1373},{"h":411,"v":1318,"v2":1372},{"h":418,"v":1322,"v2":1366},{"h":424,"v":1327,"v2":1360},{"h":428,"v":1333,"v2":1354},{"h":430,"v":1340,"v2":1350}],
"cHole":[
{"h":142,"v":1338,"v2":1339},{"h":146,"v":1334,"v2":1343},{"h":150,"v":1331,"v2":1342},{"h":153,"v":1329,"v2":1346},{"h":158,"v":1326,"v2":1349},{"h":164,"v":1323,"v2":1352},{"h":170,"v":1321,"v2":1355},{"h":175,"v":1320,"v2":1358},{"h":182,"v":1318,"v2":1357},{"h":190,"v":1316,"v2":1360},{"h":200,"v":1314,"v2":1361},{"h":210,"v":1313,"v2":1363},{"h":220,"v":1312,"v2":1365},{"h":230,"v":1311,"v2":1364},{"h":237,"v":1310,"v2":1368},{"h":245,"v":1309,"v2":1369},{"h":255,"v":1308,"v2":1371},{"h":265,"v":1307,"v2":1370},{"h":273,"v":1307,"v2":1371},{"h":282,"v":1308,"v2":1371},{"h":291,"v":1309,"v2":1370},{"h":300,"v":1309,"v2":1368},{"h":309,"v":1310,"v2":1367},{"h":318,"v":1313,"v2":1365},{"h":328,"v":1316,"v2":1363},{"h":337,"v":1318,"v2":1361},{"h":346,"v":1320,"v2":1360},{"h":355,"v":1323,"v2":1357},{"h":364,"v":1325,"v2":1356},{"h":373,"v":1327,"v2":1354},{"h":382,"v":1330,"v2":1352},{"h":391,"v":1333,"v2":1350},{"h":400,"v":1336,"v2":1347},{"h":410,"v":1339,"v2":1345},{"h":419,"v":1342,"v2":1342}],
"cBlackShaft":[{"h":368,"v":1242,"h2":374,"v2":1268}],
"cBlackHead":[{"h":376,"v":1268,"a":170}],
"cTicks":[
{"t":"1","h":55,"v":1192},{"t":"0.5","h":47,"v":1268},{"t":"0","h":55,"v":1343},{"t":"-0.5","h":45,"v":1419},{"t":"-1","h":52,"v":1492},{"t":"-10","h":47,"v":1510},{"t":"0","h":152,"v":1549},{"t":"10","h":249,"v":1586},
{"t":"-0.03","h":297,"v":1589},{"t":"-0.02","h":376,"v":1569},{"t":"-0.01","h":452,"v":1550},{"t":"0","h":516,"v":1531},{"t":"x 10","h":87,"v":1163}],
"cExp":[{"t":"4","h":105,"v":1151}],
"cNotes":[{"t":"Sliding surface","h":385,"v":1233}],
"cFrame":[{"h":6,"v":1127,"h2":6,"v2":1601}]
},
"vconcat":[
{"width":571,"height":603,
"encoding":{"x":{"field":"h","type":"quantitative","axis":null,"scale":{"domain":[0,571],"nice":false,"zero":false}},"y":{"field":"v","type":"quantitative","axis":null,"scale":{"domain":[603,0],"nice":false,"zero":false}}},
"layer":[
{"data":{"name":"frame"},"mark":{"type":"rule","color":"#ccccd8","strokeWidth":1.5},"encoding":{"x2":{"field":"h2"},"y2":{"field":"v2"}}},
{"data":{"name":"aGrid"},"mark":{"type":"rule","color":"#444444","strokeWidth":1.6,"strokeDash":[1.6,4.4]},"encoding":{"x2":{"field":"h2"},"y2":{"field":"v2"}}},
{"data":{"name":"aDenseUnder"},"mark":{"type":"area","color":"#0000f0","orient":"vertical"},"encoding":{"y2":{"field":"v2"}}},
{"data":{"name":"aLinesUnder"},"mark":{"type":"line","color":"#1a1af0","strokeWidth":1.2},"encoding":{"detail":{"field":"i"},"order":{"value":null}}},
{"data":{"name":"aYellow"},"mark":{"type":"area","color":"#bfbf00","orient":"vertical"},"encoding":{"y2":{"field":"v2"}}},
{"data":{"name":"aDenseOver"},"mark":{"type":"area","color":"#0000f0","orient":"vertical"},"encoding":{"y2":{"field":"v2"}}},
{"data":{"name":"aLinesOver"},"mark":{"type":"line","color":"#1a1af0","strokeWidth":1.2},"encoding":{"detail":{"field":"i"},"order":{"value":null}}},
{"data":{"name":"aWhite"},"mark":{"type":"point","shape":"square","filled":true,"color":"#ffffff","size":7,"opacity":0.9}},
{"data":{"name":"aOlive"},"mark":{"type":"point","shape":"square","filled":true,"color":"#bfbf00","size":5,"opacity":0.9}},
{"data":{"name":"aAxis"},"mark":{"type":"rule","color":"#333333","strokeWidth":1.2},"encoding":{"x2":{"field":"h2"},"y2":{"field":"v2"}}},
{"data":{"name":"aTicks"},"mark":{"type":"text","font":"Liberation Sans","fontSize":15,"color":"#111111"},"encoding":{"text":{"field":"t"}}},
{"data":{"name":"aExp"},"mark":{"type":"text","font":"Liberation Sans","fontSize":12,"color":"#111111"},"encoding":{"text":{"field":"t"}}},
{"data":{"values":[{"t":"Error differential","h":19,"v":310}]},"mark":{"type":"text","font":"Liberation Serif","fontSize":20,"angle":270,"color":"#111111"},"encoding":{"text":{"field":"t"}}},
{"data":{"values":[{"t":"Error","h":204,"v":537}]},"mark":{"type":"text","font":"Liberation Serif","fontSize":18.5,"angle":12,"color":"#111111"},"encoding":{"text":{"field":"t"}}},
{"data":{"values":[{"t":"Error integral","h":524,"v":480}]},"mark":{"type":"text","font":"Liberation Serif","fontSize":19,"angle":308,"color":"#111111"},"encoding":{"text":{"field":"t"}}},
{"data":{"values":[{"t":"(a) PID controller","h":289,"v":585}]},"mark":{"type":"text","font":"Liberation Serif","fontSize":26.5,"color":"#111111"},"encoding":{"text":{"field":"t"}}}
]},
{"width":571,"height":507,
"encoding":{"x":{"field":"h","type":"quantitative","axis":null,"scale":{"domain":[0,571],"nice":false,"zero":false}},"y":{"field":"v","type":"quantitative","axis":null,"scale":{"domain":[1110,603],"nice":false,"zero":false}}},
"layer":[
{"data":{"name":"bFrame"},"mark":{"type":"rule","color":"#dddddd","strokeWidth":1},"encoding":{"x2":{"field":"h2"},"y2":{"field":"v2"}}},
{"data":{"name":"bGrid"},"mark":{"type":"rule","color":"#444444","strokeWidth":1.6,"strokeDash":[1.6,4.4]},"encoding":{"x2":{"field":"h2"},"y2":{"field":"v2"}}},
{"data":{"name":"bBlobLow"},"mark":{"type":"area","color":"#0000f5","orient":"vertical"},"encoding":{"y2":{"field":"v2"}}},
{"data":{"name":"bGreen"},"mark":{"type":"area","color":"#00ff00","orient":"vertical"},"encoding":{"y2":{"field":"v2"}}},
{"data":{"name":"bBlob"},"mark":{"type":"area","color":"#0000f5","orient":"vertical"},"encoding":{"y2":{"field":"v2"},"detail":{"field":"i"}}},
{"data":{"name":"bSpike"},"mark":{"type":"rule","color":"#00c000","strokeWidth":1},"encoding":{"x2":{"field":"h2"},"y2":{"field":"v2"}}},
{"data":{"name":"bGreenDots"},"mark":{"type":"point","shape":"circle","filled":true,"color":"#00ff00","size":18,"opacity":1}},
{"data":{"name":"bWhiteShaft"},"mark":{"type":"rule","color":"#ffffff","strokeWidth":1.3},"encoding":{"x2":{"field":"h2"},"y2":{"field":"v2"}}},
{"data":{"name":"bWhiteHead"},"mark":{"type":"point","shape":"M0,-1L0.7,1L0,0.55L-0.7,1Z","filled":true,"color":"#ffffff","size":170,"opacity":1},"encoding":{"angle":{"field":"a","type":"quantitative","scale":null}}},
{"data":{"name":"bBlackShaft"},"mark":{"type":"rule","color":"#111111","strokeWidth":1.2},"encoding":{"x2":{"field":"h2"},"y2":{"field":"v2"}}},
{"data":{"name":"bBlackHead"},"mark":{"type":"point","shape":"M0,-1L0.7,1L0,0.55L-0.7,1Z","filled":true,"color":"#111111","size":170,"opacity":1},"encoding":{"angle":{"field":"a","type":"quantitative","scale":null}}},
{"data":{"name":"bAxis"},"mark":{"type":"rule","color":"#333333","strokeWidth":1.2},"encoding":{"x2":{"field":"h2"},"y2":{"field":"v2"}}},
{"data":{"name":"bTicks"},"mark":{"type":"text","font":"Liberation Sans","fontSize":15,"color":"#111111"},"encoding":{"text":{"field":"t"}}},
{"data":{"name":"bExp"},"mark":{"type":"text","font":"Liberation Sans","fontSize":12,"color":"#111111"},"encoding":{"text":{"field":"t"}}},
{"data":{"name":"bNotes"},"mark":{"type":"text","font":"Liberation Serif","fontSize":19,"color":"#111111"},"encoding":{"text":{"field":"t"}}},
{"data":{"values":[{"t":"Error differential","h":19,"v":830}]},"mark":{"type":"text","font":"Liberation Serif","fontSize":20,"angle":270,"color":"#111111"},"encoding":{"text":{"field":"t"}}},
{"data":{"values":[{"t":"Error","h":158,"v":1041}]},"mark":{"type":"text","font":"Liberation Serif","fontSize":18.5,"angle":8,"color":"#111111"},"encoding":{"text":{"field":"t"}}},
{"data":{"values":[{"t":"Error integral","h":440,"v":1046}]},"mark":{"type":"text","font":"Liberation Serif","fontSize":19,"angle":354,"color":"#111111"},"encoding":{"text":{"field":"t"}}},
{"data":{"values":[{"t":"(b) normal sliding mode controller","h":289,"v":1093}]},"mark":{"type":"text","font":"Liberation Serif","fontSize":26.5,"color":"#111111"},"encoding":{"text":{"field":"t"}}}
]},
{"width":571,"height":533,
"encoding":{"x":{"field":"h","type":"quantitative","axis":null,"scale":{"domain":[0,571],"nice":false,"zero":false}},"y":{"field":"v","type":"quantitative","axis":null,"scale":{"domain":[1643,1110],"nice":false,"zero":false}}},
"layer":[
{"data":{"name":"cFrame"},"mark":{"type":"rule","color":"#dddddd","strokeWidth":1},"encoding":{"x2":{"field":"h2"},"y2":{"field":"v2"}}},
{"data":{"name":"cGrid"},"mark":{"type":"rule","color":"#444444","strokeWidth":1.6,"strokeDash":[1.6,4.4]},"encoding":{"x2":{"field":"h2"},"y2":{"field":"v2"}}},
{"data":{"name":"cBlobLow"},"mark":{"type":"area","color":"#0000f5","orient":"vertical"},"encoding":{"y2":{"field":"v2"}}},
{"data":{"name":"cGreen"},"mark":{"type":"area","color":"#00ff00","orient":"vertical"},"encoding":{"y2":{"field":"v2"}}},
{"data":{"name":"cRing"},"mark":{"type":"area","color":"#0000f5","orient":"vertical"},"encoding":{"y2":{"field":"v2"}}},
{"data":{"name":"cHole"},"mark":{"type":"area","color":"#00ff00","orient":"vertical"},"encoding":{"y2":{"field":"v2"}}},
{"data":{"name":"cBlackShaft"},"mark":{"type":"rule","color":"#111111","strokeWidth":1.2},"encoding":{"x2":{"field":"h2"},"y2":{"field":"v2"}}},
{"data":{"name":"cBlackHead"},"mark":{"type":"point","shape":"M0,-1L0.7,1L0,0.55L-0.7,1Z","filled":true,"color":"#111111","size":170,"opacity":1},"encoding":{"angle":{"field":"a","type":"quantitative","scale":null}}},
{"data":{"name":"cAxis"},"mark":{"type":"rule","color":"#333333","strokeWidth":1.2},"encoding":{"x2":{"field":"h2"},"y2":{"field":"v2"}}},
{"data":{"name":"cTicks"},"mark":{"type":"text","font":"Liberation Sans","fontSize":15,"color":"#111111"},"encoding":{"text":{"field":"t"}}},
{"data":{"name":"cExp"},"mark":{"type":"text","font":"Liberation Sans","fontSize":12,"color":"#111111"},"encoding":{"text":{"field":"t"}}},
{"data":{"name":"cNotes"},"mark":{"type":"text","font":"Liberation Serif","fontSize":19,"color":"#111111"},"encoding":{"text":{"field":"t"}}},
{"data":{"values":[{"t":"Error differential","h":13,"v":1338}]},"mark":{"type":"text","font":"Liberation Serif","fontSize":20,"angle":270,"color":"#111111"},"encoding":{"text":{"field":"t"}}},
{"data":{"values":[{"t":"Error","h":142,"v":1567}]},"mark":{"type":"text","font":"Liberation Serif","fontSize":18.5,"angle":22,"color":"#111111"},"encoding":{"text":{"field":"t"}}},
{"data":{"values":[{"t":"Error integral","h":429,"v":1585}]},"mark":{"type":"text","font":"Liberation Serif","fontSize":19,"angle":343,"color":"#111111"},"encoding":{"text":{"field":"t"}}},
{"data":{"values":[{"t":"(c) adaptive sliding mode controller","h":290,"v":1630}]},"mark":{"type":"text","font":"Liberation Serif","fontSize":26.5,"color":"#111111"},"encoding":{"text":{"field":"t"}}}
]}
]
}
